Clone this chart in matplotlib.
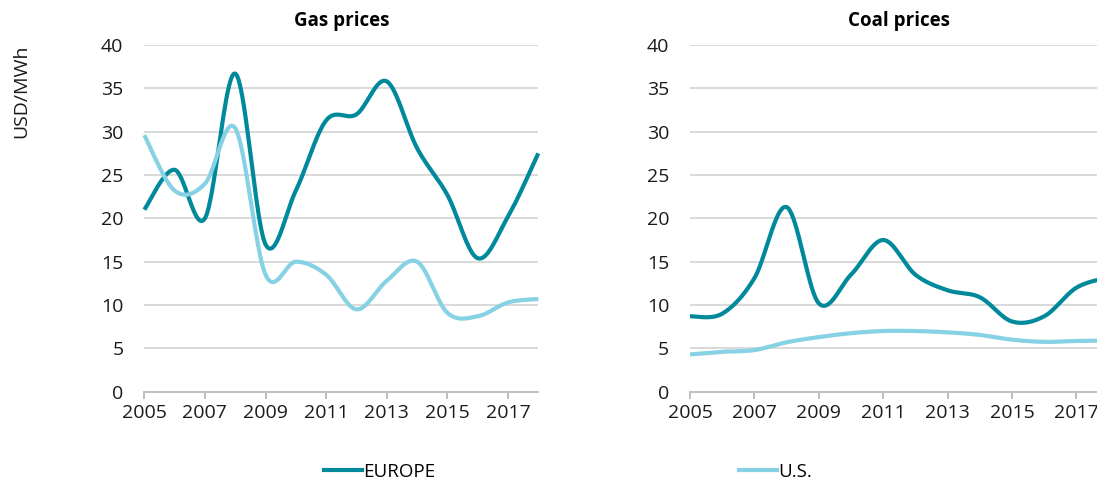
import numpy as np
import matplotlib
matplotlib.use("Agg")
import matplotlib.pyplot as plt
from matplotlib.lines import Line2D

plt.rcParams['font.family'] = ['Open Sans', 'DejaVu Sans']

years = list(range(2005, 2019))
gas_europe = [21.0, 25.6, 20.0, 36.7, 17.0, 23.2, 31.3, 32.0, 35.8, 28.1, 22.7, 15.4, 20.2, 27.5]
gas_us = [29.6, 23.2, 24.0, 30.4, 13.5, 15.0, 13.5, 9.5, 12.8, 15.0, 9.1, 8.7, 10.3, 10.7]
coal_europe = [8.7, 9.0, 13.1, 21.3, 10.2, 13.5, 17.5, 13.5, 11.7, 10.9, 8.1, 8.7, 12.0, 13.2]
coal_us = [4.3, 4.6, 4.8, 5.7, 6.3, 6.75, 7.0, 7.0, 6.85, 6.55, 6.0, 5.75, 5.85, 5.9]
xticks = [2005, 2007, 2009, 2011, 2013, 2015, 2017]
yticks = [0, 5, 10, 15, 20, 25, 30, 35, 40]
titles = ["Gas prices", "Coal prices"]
series_names = ["EUROPE", "U.S."]

C_EU = "#00899B"
C_US = "#86D1E4"
GRID = "#D9D9D9"
AXC = "#BFBFBF"


def smooth(x, y, n=40):
    """Excel-style smoothed line (Catmull-Rom Bezier) through the points."""
    x = np.asarray(x, float)
    y = np.asarray(y, float)
    P = np.column_stack([x, y])
    out = []
    t = np.linspace(0, 1, n)
    for i in range(len(P) - 1):
        p0 = P[i - 1] if i > 0 else P[i]
        p1 = P[i]
        p2 = P[i + 1]
        p3 = P[i + 2] if i + 2 < len(P) else P[i + 1]
        c1 = p1 + (p2 - p0) / 6.0
        c2 = p2 - (p3 - p1) / 6.0
        seg = ((1 - t) ** 3)[:, None] * p1 + (3 * (1 - t) ** 2 * t)[:, None] * c1 \
            + (3 * (1 - t) * t ** 2)[:, None] * c2 + (t ** 3)[:, None] * p2
        out.append(seg if i == 0 else seg[1:])
    S = np.vstack(out)
    return S[:, 0], S[:, 1]


W, H = 1097, 483
fig = plt.figure(figsize=(W / 100, H / 100), dpi=100)

# axes rectangles in pixels: (left, right, top, bottom)
rects = [(144.3, 538.3, 45.0, 391.7), (690.0, 1108.6, 45.0, 391.7)]
data = [(gas_europe, gas_us), (coal_europe, coal_us)]

for (l, r, t, b), (eu, us), title in zip(rects, data, titles):
    ax = fig.add_axes([l / W, 1 - b / H, (r - l) / W, (b - t) / H])
    ax.set_xlim(2005, 2018)
    ax.set_ylim(0, 40)
    ax.set_yticks(yticks)
    ax.set_xticks(xticks)
    ax.grid(axis='y', color=GRID, linewidth=1.4)
    ax.set_axisbelow(True)
    for s in ['top', 'right', 'left']:
        ax.spines[s].set_visible(False)
    ax.spines['bottom'].set_color(AXC)
    ax.spines['bottom'].set_linewidth(1.4)
    ax.tick_params(axis='y', length=0, pad=15, labelsize=14, labelcolor='#1a1a1a')
    ax.tick_params(axis='x', length=5, width=1.4, color=AXC, pad=4, labelsize=14,
                   labelcolor='#1a1a1a', direction='out')
    xs, ys = smooth(years, eu)
    ax.plot(xs, ys, color=C_EU, linewidth=3.0, solid_capstyle='butt', clip_on=False)
    xs, ys = smooth(years, us)
    ax.plot(xs, ys, color=C_US, linewidth=3.0, solid_capstyle='butt', clip_on=False)
    ax.set_title(title, fontsize=13.5, fontweight='bold', pad=14, color='#000000')

fig.text(21 / W, 1 - 45 / H, "USD/MWh", rotation=90, ha='center', va='top',
         fontsize=14, color='#1a1a1a')

handles = [Line2D([0], [0], color=C_EU, lw=3.0),
           Line2D([0], [0], color=C_US, lw=3.0)]
fig.legend(handles, series_names, loc='center left',
           bbox_to_anchor=(324 / W, 1 - 472 / H), ncol=2, frameon=False,
           fontsize=13.5, handlelength=2.0, handletextpad=0.1,
           columnspacing=16.2, borderpad=0, borderaxespad=0)

fig.savefig("out.png", dpi=100)
